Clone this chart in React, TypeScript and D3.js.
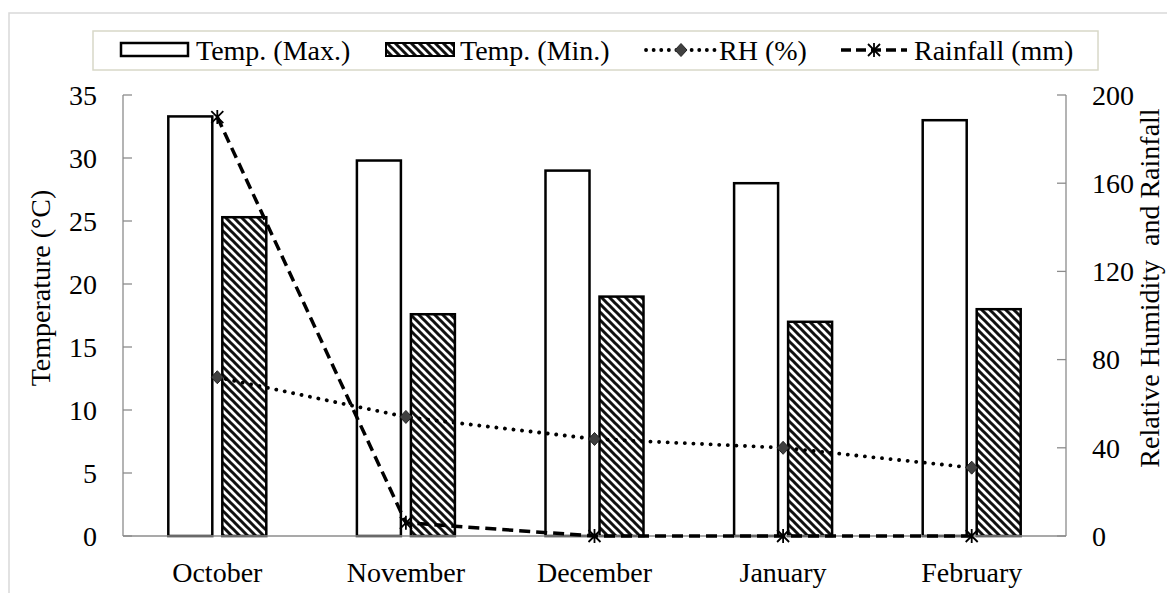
import React from "react";
import * as d3 from "d3";

const months = ["October", "November", "December", "January", "February"];
const tempMax = [33.3, 29.8, 29.0, 28.0, 33.0];
const tempMin = [25.3, 17.6, 19.0, 17.0, 18.0];
const rh = [72, 54, 44, 40, 31];
const rainfall = [190, 6, 0, 0, 0];
const leftTicks = [0, 5, 10, 15, 20, 25, 30, 35];
const rightTicks = [0, 40, 80, 120, 160, 200];

const W = 1167;
const H = 593;
const FONT = "'Liberation Serif', 'Times New Roman', serif";
const FS = 28;

export default function App() {
  const x = d3.scaleBand<string>().domain(months).range([123, 1066]).padding(0);
  const yL = d3.scaleLinear().domain([0, 35]).range([536, 95]);
  const yR = d3.scaleLinear().domain([0, 200]).range([536, 95]);
  const bw = x.bandwidth();
  const barW = bw * 0.2333;
  const off = barW / 2 + 5;
  const cx = (m: string) => (x(m) as number) + bw / 2;

  const line = d3
    .line<number>()
    .x((_, i) => cx(months[i]))
    .y((d) => yR(d));

  const diamond = (px: number, py: number, w = 6, h = 6.5) =>
    `M${px},${py - h}L${px + w},${py}L${px},${py + h}L${px - w},${py}Z`;
  const star = (px: number, py: number, r = 6) =>
    `M${px - r},${py - r}L${px + r},${py + r}M${px + r},${py - r}L${px - r},${py + r}M${px},${py - r - 1}L${px},${py + r + 1}`;

  const axisColor = "#8c8c8c";

  return (
    <svg
      width={W}
      height={H}
      style={{ position: "absolute", left: 0, top: 0, background: "#fff" }}
      fontFamily={FONT}
    >
      <defs>
        <pattern id="hatch" width="8" height="8" patternUnits="userSpaceOnUse">
          <rect width="8" height="8" fill="#fff" />
          <path
            d="M-2,-2L10,10M-2,6L2,10M6,-2L10,2"
            stroke="#111"
            strokeWidth="3"
          />
        </pattern>
      </defs>
      {/* outer border */}
      <rect x={9} y={13} width={1200} height={620} fill="#fff" stroke="#d9d9d9" strokeWidth={1.5} />

      {/* legend */}
      <rect x={93} y={31} width={1005} height={39} fill="#fff" stroke="#d8d8c8" strokeWidth={1.5} />
      <rect x={121} y={43} width={67} height={13} fill="#fff" stroke="#000" strokeWidth={2.5} />
      <text x={196} y={60} fontSize={FS}>Temp. (Max.)</text>
      <rect x={386} y={43} width={68} height={13} fill="url(#hatch)" stroke="#000" strokeWidth={2} />
      <text x={460} y={60} fontSize={FS}>Temp. (Min.)</text>
      <line x1={646} x2={716} y1={50} y2={50} stroke="#000" strokeWidth={3.8} strokeDasharray="0.1 7.5" strokeLinecap="round" />
      <path d={diamond(681, 50)} fill="#404040" stroke="#222" strokeWidth={1} />
      <text x={719} y={60} fontSize={FS}>RH (%)</text>
      <line x1={841} x2={907} y1={50} y2={50} stroke="#000" strokeWidth={3.5} strokeDasharray="10 5" />
      <path d={star(874, 50)} fill="none" stroke="#000" strokeWidth={1.8} />
      <text x={914} y={60} fontSize={FS}>Rainfall (mm)</text>

      {/* bars */}
      {months.map((m, i) => (
        <g key={m}>
          <rect
            x={cx(m) - off - barW / 2}
            y={yL(tempMax[i])}
            width={barW}
            height={yL(0) - yL(tempMax[i])}
            fill="#fff"
            stroke="#000"
            strokeWidth={2.5}
          />
          <rect
            x={cx(m) + off - barW / 2}
            y={yL(tempMin[i])}
            width={barW}
            height={yL(0) - yL(tempMin[i])}
            fill="url(#hatch)"
            stroke="#000"
            strokeWidth={2.5}
          />
        </g>
      ))}

      {/* axes */}
      <line x1={123} x2={123} y1={95} y2={536} stroke={axisColor} strokeWidth={1.3} />
      <line x1={1066} x2={1066} y1={95} y2={536} stroke={axisColor} strokeWidth={1.3} />
      <line x1={123} x2={1066} y1={536} y2={536} stroke={axisColor} strokeWidth={1.3} />
      {leftTicks.map((t) => (
        <g key={"l" + t}>
          <line x1={123} x2={132} y1={yL(t)} y2={yL(t)} stroke={axisColor} strokeWidth={1.3} />
          <text x={97} y={yL(t)} dy="0.35em" textAnchor="end" fontSize={FS}>
            {t}
          </text>
        </g>
      ))}
      {rightTicks.map((t) => (
        <g key={"r" + t}>
          <line x1={1057} x2={1066} y1={yR(t)} y2={yR(t)} stroke={axisColor} strokeWidth={1.3} />
          <text x={1092} y={yR(t)} dy="0.35em" textAnchor="start" fontSize={FS}>
            {t}
          </text>
        </g>
      ))}
      {months.map((m) => (
        <text key={"c" + m} x={cx(m)} y={582} textAnchor="middle" fontSize={FS}>
          {m}
        </text>
      ))}

      {/* axis titles */}
      <text transform="translate(50,288) rotate(-90)" textAnchor="middle" fontSize={FS}>
        Temperature (°C)
      </text>
      <text transform="translate(1159,288) rotate(-90)" textAnchor="middle" fontSize={FS} xmlSpace="preserve">
        Relative Humidity  and Rainfall
      </text>

      {/* lines */}
      <path d={line(rh) || ""} fill="none" stroke="#000" strokeWidth={3.8} strokeDasharray="0.1 8.5" strokeLinecap="round" />
      {rh.map((v, i) => (
        <path key={"d" + i} d={diamond(cx(months[i]), yR(v))} fill="#404040" stroke="#222" strokeWidth={1} />
      ))}
      <path d={line(rainfall) || ""} fill="none" stroke="#000" strokeWidth={3.5} strokeDasharray="11 6" />
      {rainfall.map((v, i) => (
        <path key={"s" + i} d={star(cx(months[i]), yR(v))} fill="none" stroke="#000" strokeWidth={1.8} />
      ))}
    </svg>
  );
}
